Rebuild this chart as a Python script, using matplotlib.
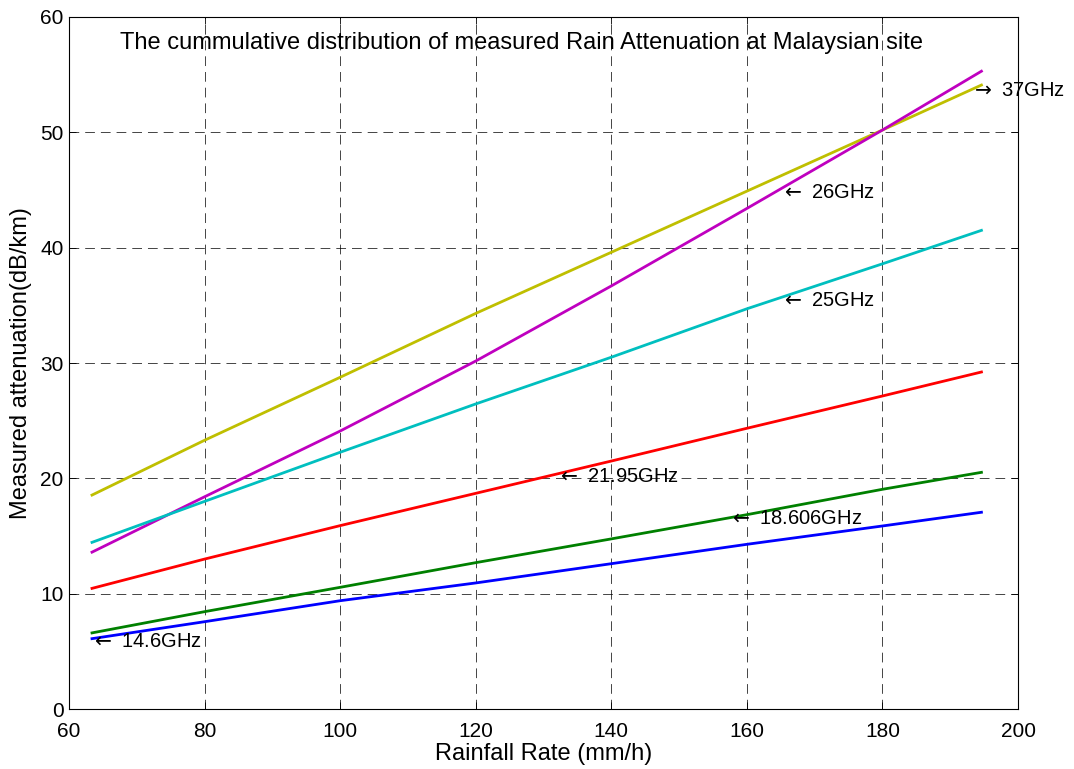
import matplotlib
matplotlib.use("Agg")
import matplotlib.pyplot as plt

plt.rcParams['font.family'] = ['Liberation Sans', 'DejaVu Sans']
plt.rcParams['mathtext.fontset'] = 'dejavusans'
plt.rcParams['lines.scale_dashes'] = False

# Rainfall rate (mm/h) and specific attenuation (dB/km) per frequency
rain_rate = [63.4, 80, 100, 120, 140, 160, 180, 194.6]
att_37ghz = [18.55, 23.3, 28.76, 34.3, 39.6, 44.9, 50.2, 54.1]
att_26ghz = [13.6, 18.4, 24.1, 30.17, 36.68, 43.4, 50.2, 55.3]
att_25ghz = [14.45, 18.0, 22.26, 26.45, 30.5, 34.7, 38.6, 41.5]
att_2195ghz = [10.46, 13.0, 15.9, 18.7, 21.5, 24.34, 27.14, 29.22]
att_18606ghz = [6.6, 8.44, 10.55, 12.69, 14.75, 16.85, 19.05, 20.52]
att_146ghz = [6.1, 7.57, 9.39, 10.93, 12.6, 14.28, 15.87, 17.06]

series = [
    (att_37ghz, (0.75, 0.75, 0.0)),
    (att_26ghz, (0.75, 0.0, 0.75)),
    (att_25ghz, (0.0, 0.75, 0.75)),
    (att_2195ghz, (1.0, 0.0, 0.0)),
    (att_18606ghz, (0.0, 0.5, 0.0)),
    (att_146ghz, (0.0, 0.0, 1.0)),
]

# Curve annotations: text, x, y
annotations = [
    (r"$\leftarrow$ 14.6GHz", 63.3, 5.84),
    (r"$\leftarrow$ 21.95GHz", 132.0, 20.2),
    (r"$\leftarrow$ 18.606GHz", 157.3, 16.5),
    (r"$\leftarrow$ 25GHz", 165.1, 35.4),
    (r"$\leftarrow$ 26GHz", 165.1, 44.8),
    (r"$\rightarrow$ 37GHz", 193.0, 53.67),
]

fig = plt.figure(figsize=(10.74, 7.69), dpi=100)
ax = fig.add_axes([0.0642, 0.078, 0.8837, 0.8999])

for values, color in series:
    ax.plot(rain_rate, values, color=color, linewidth=2.0, zorder=3)

ax.set_xlim(60, 200)
ax.set_ylim(0, 60)
ax.set_xticks(range(60, 201, 20))
ax.set_yticks(range(0, 61, 10))
ax.grid(True, color='black', linestyle=(0, (7, 4.3)), linewidth=0.6, alpha=0.85)
ax.tick_params(direction='in', top=True, right=True, labelsize=15, length=5, width=0.6)
ax.tick_params(axis='x', pad=9)
ax.tick_params(axis='y', pad=4)
for sp in ax.spines.values():
    sp.set_linewidth(0.8)

for text, x, y in annotations:
    ax.text(x, y, text, fontsize=14.5, va='center', ha='left', zorder=4)

ax.text(67.5, 57.75, "The cummulative distribution of measured Rain Attenuation at Malaysian site",
        fontsize=17, va='center', ha='left')

ax.set_xlabel("Rainfall Rate (mm/h)", fontsize=17, labelpad=2)
ax.set_ylabel("Measured attenuation(dB/km)", fontsize=17, labelpad=6)

fig.savefig("out.png", dpi=100)
